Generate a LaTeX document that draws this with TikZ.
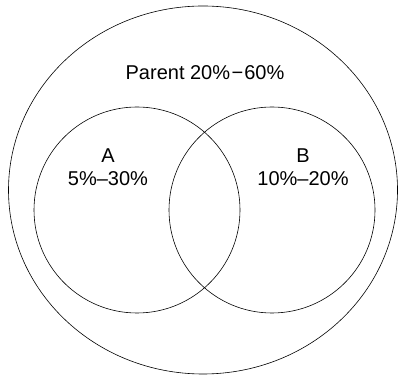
\documentclass[tikz,border=0pt]{standalone}
\usepackage{fontspec}
\setmainfont{Liberation Sans}
\usetikzlibrary{shapes.geometric,positioning}

\begin{document}
\begin{tikzpicture}[
    x=1pt, y=1pt,
    setcircle/.style={circle, draw, line width=0.6pt, minimum size=206pt, inner sep=0pt},
    parentset/.style={ellipse, draw, line width=0.6pt, minimum width=389pt, minimum height=368pt, inner sep=0pt},
    setlabel/.style={align=center, font=\fontsize{20}{23}\selectfont, inner sep=0pt},
  ]
    \useasboundingbox (0,0) rectangle (398,374);

    % Parent set
    \node[parentset] (parent) at (203,184) {};
    \node[setlabel] (parentlbl) at (205,301) {Parent 20\%\kern1.5pt−\kern1pt60\%};

    % Subsets
    \node[setcircle] (setA) at (137,164) {};
    \node[setcircle] (setB) at (272,164) {};

    % Subset labels
    \node[setlabel] (lblA) at (108,207) {A\\5\%–30\%};
    \node[setlabel] (lblB) at (303,207) {B\\10\%–20\%};
  \end{tikzpicture}
\end{document}
